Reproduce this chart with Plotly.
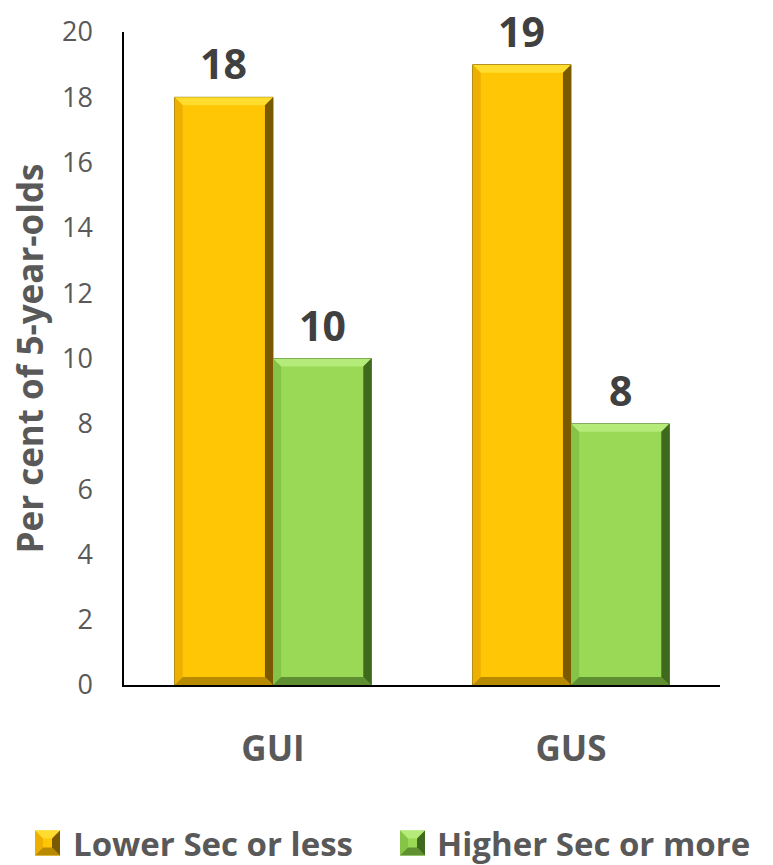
import plotly.graph_objects as go

categories = ["GUI", "GUS"]
series_names = ["Lower Sec or less", "Higher Sec or more"]
lower_sec = [18, 19]
higher_sec = [10, 8]
y_ticks = [0, 2, 4, 6, 8, 10, 12, 14, 16, 18, 20]

colors = ["#FFC605", "#99D955"]
bevel_top = ["#FFDC2E", "#B5EB78"]
bevel_left = ["#EDB000", "#86C448"]
bevel_right = ["#7A5A00", "#3F6A1E"]
bevel_bottom = ["#B88A00", "#5E8F30"]
edge = ["#8A6A00", "#4A6E28"]
font = "'Open Sans', Lato, sans-serif"
grey = "#595959"

W, H = 773, 865
ML, MR, MT, MB = 124, 53, 32, 180
PW, PH = W - ML - MR, H - MT - MB

def px_x(p):  # pixel x -> paper
    return (p - ML) / PW

def px_y(p):  # pixel y -> paper
    return (H - MB - p) / PH

bargap = 0.34
bar_w = (1 - bargap) / 2
bx = 0.027   # bevel in category units
by = 0.245   # bevel in value units

fig = go.Figure()
all_vals = [lower_sec, higher_sec]
for name, vals, c, e in zip(series_names, all_vals, colors, edge):
    fig.add_trace(go.Bar(
        x=categories, y=vals, name=name, showlegend=False,
        marker=dict(color=c, line=dict(color=e, width=1)),
        textposition="none",
    ))

def poly(pts):
    return "M " + " L ".join(f"{x},{y}" for x, y in pts) + " Z"

shapes = []
for s, vals in enumerate(all_vals):
    for j, v in enumerate(vals):
        cx = j - bar_w / 2 + s * bar_w
        x0, x1 = cx - bar_w / 2, cx + bar_w / 2
        sides = [
            ([(x0, v), (x1, v), (x1 - bx, v - by), (x0 + bx, v - by)], bevel_top[s]),
            ([(x0, 0), (x0, v), (x0 + bx, v - by), (x0 + bx, by)], bevel_left[s]),
            ([(x0, 0), (x1, 0), (x1 - bx, by), (x0 + bx, by)], bevel_bottom[s]),
            ([(x1, v), (x1, 0), (x1 - bx, by), (x1 - bx, v - by)], bevel_right[s]),
        ]
        for pts, col in sides:
            shapes.append(dict(type="path", path=poly(pts), xref="x", yref="y",
                               fillcolor=col, line=dict(width=0), layer="above"))
        fig.add_annotation(x=cx, y=v, text=f"<b>{v}</b>", showarrow=False,
                           yanchor="bottom", yshift=5, xref="x", yref="y", borderpad=0,
                           font=dict(family=font, size=41, color="#404040"))

# legend (symbols + labels), placed in the bottom margin
legend_sym_left = [35, 400]
legend_text_left = [72, 436]
sym_size, sym_bev, leg_cy = 25, 8, 843
for s, name in enumerate(series_names):
    l, t = legend_sym_left[s], leg_cy - sym_size / 2
    r, b = l + sym_size, t + sym_size
    parts = [
        ([(l, t), (r, t), (r - sym_bev, t + sym_bev), (l + sym_bev, t + sym_bev)], bevel_top[s]),
        ([(l, t), (l, b), (l + sym_bev, b - sym_bev), (l + sym_bev, t + sym_bev)], bevel_left[s]),
        ([(l, b), (r, b), (r - sym_bev, b - sym_bev), (l + sym_bev, b - sym_bev)], bevel_bottom[s]),
        ([(r, t), (r, b), (r - sym_bev, b - sym_bev), (r - sym_bev, t + sym_bev)], bevel_right[s]),
    ]
    shapes.append(dict(type="rect", xref="paper", yref="paper",
                       x0=px_x(l), x1=px_x(r), y0=px_y(b), y1=px_y(t),
                       fillcolor=colors[s], line=dict(width=0)))
    for pts, col in parts:
        shapes.append(dict(type="path", xref="paper", yref="paper",
                           path=poly([(px_x(a), px_y(c)) for a, c in pts]),
                           fillcolor=col, line=dict(width=0)))
    fig.add_annotation(x=px_x(legend_text_left[s]), y=px_y(leg_cy), xref="paper", yref="paper",
                       text=f"<b>{name}</b>", showarrow=False, xanchor="left", yanchor="middle",
                       borderpad=0, font=dict(family=font, size=33, color=grey))

fig.update_layout(
    width=W, height=H,
    margin=dict(l=ML, r=MR, t=MT, b=MB, autoexpand=False),
    paper_bgcolor="white", plot_bgcolor="white",
    barmode="group", bargap=bargap, bargroupgap=0,
    font=dict(family=font, color=grey),
    shapes=shapes,
    showlegend=False,
    xaxis=dict(type="category", range=[-0.5, 1.5], showline=True, linecolor="#000000",
               linewidth=1.5, ticks="", showgrid=False,
               tickvals=categories, ticktext=[f"<b>{c}</b>" for c in categories],
               tickfont=dict(size=35, color=grey, family=font),
               ticklabelstandoff=32),
    yaxis=dict(range=[0, 20], tickvals=y_ticks, showline=True, linecolor="#000000",
               linewidth=1.5, ticks="", showgrid=False, zeroline=False,
               tickfont=dict(size=27, color=grey, family=font), ticklabelstandoff=24,
               title=dict(text="<b>Per cent of 5-year-olds</b>", standoff=8,
                          font=dict(size=35, color=grey, family=font))),
)
fig.write_html("out.html")
